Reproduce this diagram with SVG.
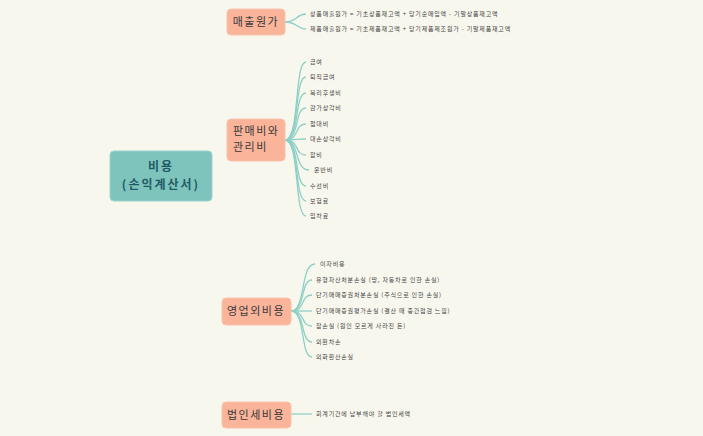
<svg xmlns="http://www.w3.org/2000/svg" width="703" height="436" viewBox="0 0 703 436">
<defs><style>
.c{fill:none;stroke:#8fd0c6;stroke-width:1.3}
.b rect{fill:#f9b49a;stroke:#f7c4ae;stroke-width:1}
.b text{font-family:"Noto Sans CJK KR",sans-serif;font-size:11px;fill:#3a3a3a;letter-spacing:1.5px}
.l{font-family:"Noto Sans CJK KR",sans-serif;font-size:6px;fill:#444;letter-spacing:0.8px}
</style></defs>
<rect width="703" height="436" fill="#f8f7ed"/>
<g id="connectors">
<path class="c" d="M285,22 C298,22 296,14 306,14"/>
<path class="c" d="M285,22 C298,22 296,29 306,29"/>
<g>
<path class="c" d="M285,140 C300,140 294,62 306,62"/>
<path class="c" d="M285,140 C300,140 294,77 306,77"/>
<path class="c" d="M285,140 C300,140 294,93 306,93"/>
<path class="c" d="M285,140 C300,140 294,108 306,108"/>
<path class="c" d="M285,140 C300,140 294,124 306,124"/>
<path class="c" d="M285,140 C300,140 294,139 306,139"/>
<path class="c" d="M285,140 C300,140 294,155 306,155"/>
<path class="c" d="M285,140 C300,140 294,170 309,170"/>
<path class="c" d="M285,140 C300,140 294,186 306,186"/>
<path class="c" d="M285,140 C300,140 294,201 306,201"/>
<path class="c" d="M285,140 C300,140 294,216 306,216"/>
</g>
<g>
<path class="c" d="M291,311 C306,311 300,264 315,264"/>
<path class="c" d="M291,311 C306,311 300,280 312,280"/>
<path class="c" d="M291,311 C306,311 300,295 312,295"/>
<path class="c" d="M291,311 C306,311 300,311 312,311"/>
<path class="c" d="M291,311 C306,311 300,326 312,326"/>
<path class="c" d="M291,311 C306,311 300,342 312,342"/>
<path class="c" d="M291,311 C306,311 300,357 312,357"/>
</g>
<path class="c" d="M291,414 L312,414"/>
</g>
<g id="root">
<rect x="110" y="151" width="102" height="50" rx="4" fill="#7ec4bc" stroke="#9ad3cc"/>
<text x="161" y="171" text-anchor="middle" font-family="Noto Sans CJK KR,sans-serif" font-size="12" font-weight="bold" fill="#1f5a66" letter-spacing="2">비용</text>
<text x="161" y="189" text-anchor="middle" font-family="Noto Sans CJK KR,sans-serif" font-size="12" font-weight="bold" fill="#1f5a66" letter-spacing="2">(손익계산서)</text>
</g>
<g id="n1" class="b"><rect x="227" y="9" width="58" height="26" rx="4"/><text x="256" y="26" text-anchor="middle">매출원가</text></g>
<g id="n2" class="b"><rect x="227" y="119" width="58" height="42" rx="4"/><text x="233" y="135">판매비와</text><text x="233" y="151">관리비</text></g>
<g id="n3" class="b"><rect x="222" y="298" width="69" height="27" rx="4"/><text x="256" y="315" text-anchor="middle">영업외비용</text></g>
<g id="n4" class="b"><rect x="222" y="402" width="69" height="26" rx="4"/><text x="256" y="419" text-anchor="middle">법인세비용</text></g>
<g id="leaves">
<text class="l" x="310" y="16">상품매출원가 = 기초상품재고액 + 당기순매입액 - 기말상품재고액</text>
<text class="l" x="310" y="31">제품매출원가 = 기초제품재고액 + 당기제품제조원가 - 기말제품재고액</text>
<text class="l" x="310" y="64">급여</text>
<text class="l" x="310" y="79">퇴직급여</text>
<text class="l" x="310" y="95">복리후생비</text>
<text class="l" x="310" y="110">감가상각비</text>
<text class="l" x="310" y="126">접대비</text>
<text class="l" x="310" y="141">대손상각비</text>
<text class="l" x="310" y="157">잡비</text>
<text class="l" x="314" y="172">운반비</text>
<text class="l" x="310" y="188">수선비</text>
<text class="l" x="310" y="203">보험료</text>
<text class="l" x="310" y="218">임차료</text>
<text class="l" x="320" y="266">이자비용</text>
<text class="l" x="316" y="282">유형자산처분손실 (땅, 자동차로 인한 손실)</text>
<text class="l" x="316" y="297">단기매매증권처분손실 (주식으로 인한 손실)</text>
<text class="l" x="316" y="313">단기매매증권평가손실 (결산 때 중간점검 느낌)</text>
<text class="l" x="316" y="328">잡손실 (원인 모르게 사라진 돈)</text>
<text class="l" x="316" y="344">외환차손</text>
<text class="l" x="316" y="359">외화환산손실</text>
<text class="l" x="316" y="416">회계기간에 납부해야 할 법인세액</text>
</g>
</svg>
